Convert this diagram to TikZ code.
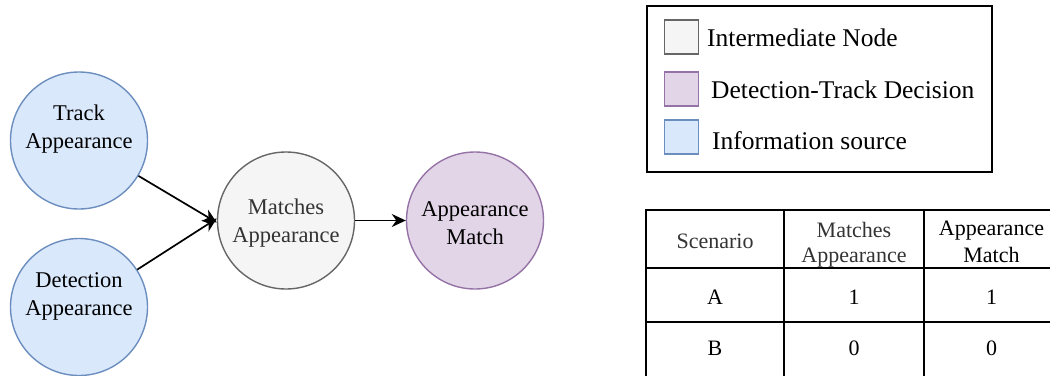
\documentclass[tikz,border=0pt]{standalone}
\usepackage{fontspec}
\setmainfont{Liberation Serif}
\usetikzlibrary{arrows.meta}
\definecolor{srcfill}{HTML}{DAE8FC}
\definecolor{srcdraw}{HTML}{6C8EBF}
\definecolor{midfill}{HTML}{F5F5F5}
\definecolor{middraw}{HTML}{666666}
\definecolor{decfill}{HTML}{E1D5E7}
\definecolor{decdraw}{HTML}{9673A6}
\definecolor{darktext}{HTML}{333333}
\begin{document}
\begin{tikzpicture}[x=1pt,y=-1pt,
 circ/.style={circle, minimum size=137pt, inner sep=0pt, line width=1.4pt},
 src/.style={circ, fill=srcfill, draw=srcdraw},
 mid/.style={circ, fill=midfill, draw=middraw},
 dec/.style={circ, fill=decfill, draw=decdraw},
 ctext/.style={align=center, inner sep=0pt, font=\fontsize{22.5}{28}\selectfont},
 arr/.style={line width=1.7pt, -{Stealth[length=14pt,width=13pt,inset=4.5pt]}},
 legsq/.style={minimum size=34pt, inner sep=0pt, line width=1.6pt},
 legtext/.style={anchor=west, inner sep=0pt, font=\fontsize{25.5}{30}\selectfont},
 tline/.style={line width=1.6pt},
 ttext/.style={align=center, inner sep=0pt, font=\fontsize{22}{25}\selectfont}
]
\useasboundingbox (0,0) rectangle (1050,375);
\begin{scope}
\clip (0,0) rectangle (1050,375);
% circles
\node[src] (T) at (79,140.5) {};
\node[src] (D) at (79,307) {};
\node[mid] (M) at (286,220.5) {};
\node[dec] (AM) at (475,220.5) {};
\node[ctext] (Tt) at (79,129) {Track\\Appearance};
\node[ctext] (Dt) at (79,296) {Detection\\Appearance};
\node[ctext, text=darktext] (Mt) at (286,223.5) {Matches\\Appearance};
\node[ctext] (AMt) at (475,223) {Appearance\\Match};
% connectors
\draw[arr] (T) -- ([yshift=-2pt]M.west);
\draw[arr] (D) -- ([yshift=2pt]M.west);
\draw[arr] (M.east) -- (AM.west);
% legend
\draw[line width=1.8pt] (647,6) rectangle (992,172);
\node[legsq, fill=midfill, draw=middraw] (L1) at (681.5,37) {};
\node[legsq, fill=decfill, draw=decdraw] (L2) at (681.5,89) {};
\node[legsq, fill=srcfill, draw=srcdraw] (L3) at (681.5,137) {};
\node[legtext] (L1t) at (707,38) {Intermediate Node};
\node[legtext] (L2t) at (711,90) {Detection-Track Decision};
\node[legtext] (L3t) at (712,141) {Information source};
% table
\draw[tline] (646,210) rectangle (1060,378);
\draw[tline] (646,268) -- (1060,268);
\draw[tline] (646,322) -- (1060,322);
\draw[tline] (784,210) -- (784,378);
\draw[tline] (924,210) -- (924,378);
\node[ttext, text=darktext] (h1) at (715,241) {Scenario};
\node[ttext, text=darktext] (h2) at (854,244.5) {Matches\\Appearance};
\node[ttext, font=\fontsize{22}{27}\selectfont] (h3) at (991.5,242) {Appearance\\Match};
\node[ttext] (a1) at (715,297) {A};
\node[ttext] (a2) at (854,297) {1};
\node[ttext] (a3) at (991.5,297) {1};
\node[ttext] (b1) at (715,348) {B};
\node[ttext] (b2) at (854,348) {0};
\node[ttext] (b3) at (991.5,348) {0};
\end{scope}
\end{tikzpicture}
\end{document}
